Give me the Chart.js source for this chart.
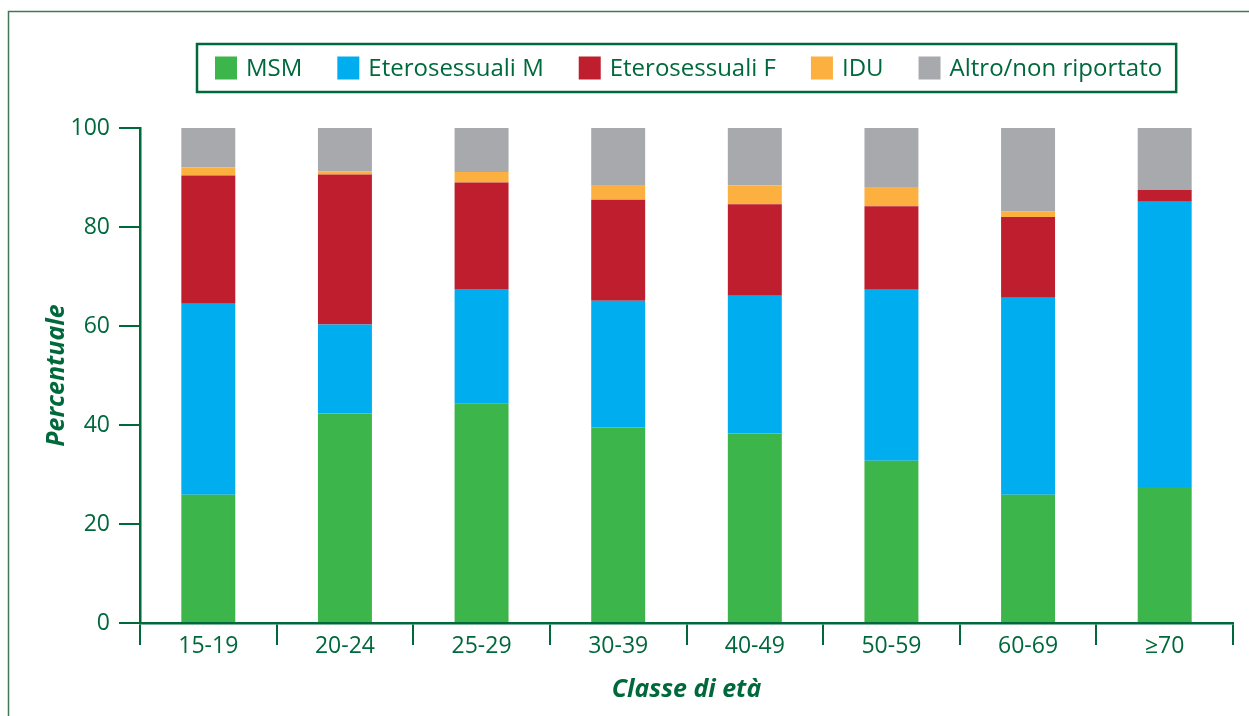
<!DOCTYPE html>
<html>
<head>
<meta charset="utf-8">
<script src="https://cdn.jsdelivr.net/npm/chart.js@4.4.0/dist/chart.umd.min.js"></script>
<style>
  html, body { margin: 0; padding: 0; background: #fff; }
  #wrap { width: 1249px; height: 716px; }
</style>
</head>
<body>
<div id="wrap"><canvas id="myChart" width="1249" height="716"></canvas></div>
<script>
// dati (percentuali per classe di età)
const classi = ['15-19', '20-24', '25-29', '30-39', '40-49', '50-59', '60-69', '≥70'];
const msm = [25.9, 42.3, 44.3, 39.5, 38.3, 32.8, 25.9, 27.5];
const eteroM = [38.6, 18.0, 23.2, 25.6, 27.8, 34.5, 39.8, 57.6];
const eteroF = [25.9, 30.3, 21.5, 20.4, 18.5, 16.9, 16.3, 2.4];
const idu = [1.6, 0.6, 2.1, 3.0, 3.8, 3.9, 1.2, 0];
const altro = [8.0, 8.8, 8.9, 11.5, 11.6, 11.9, 16.8, 12.5];
const yTicks = [0, 20, 40, 60, 80, 100];

const verde = '#00693c';
const fontName = "'Open Sans', 'Noto Sans', sans-serif";

// cornice esterna + legenda con bordo, centrata sull'area del grafico
const decorPlugin = {
  id: 'decor',
  beforeDraw(chart) {
    const c = chart.ctx;
    c.save();
    c.fillStyle = '#fff';
    c.fillRect(0, 0, chart.width, chart.height);
    c.strokeStyle = '#3f7a55';
    c.lineWidth = 1.5;
    c.beginPath();
    c.moveTo(8.5, chart.height);
    c.lineTo(8.5, 11.5);
    c.lineTo(chart.width, 11.5);
    c.stroke();
    c.restore();
  },
  afterDraw(chart) {
    const c = chart.ctx;
    const area = chart.chartArea;
    const sets = chart.data.datasets;
    c.save();
    c.font = '24px ' + fontName;
    c.textBaseline = 'middle';
    const sw = 22, gapTxt = 9, gapItem = 35, padL = 18, padR = 14;
    let total = padL + padR;
    const widths = sets.map(d => c.measureText(d.label).width);
    widths.forEach((w, i) => { total += sw + gapTxt + w + (i > 0 ? gapItem : 0); });
    const boxTop = 44, boxH = 48;
    const left = Math.round((area.left + area.right) / 2 - total / 2);
    c.strokeStyle = verde;
    c.lineWidth = 2.5;
    c.strokeRect(left, boxTop, total, boxH);
    let x = left + padL;
    const cy = boxTop + boxH / 2;
    sets.forEach((d, i) => {
      c.fillStyle = d.backgroundColor;
      c.fillRect(x, cy - 11.5, sw, 23);
      c.fillStyle = verde;
      c.fillText(d.label, x + sw + gapTxt, cy + 1);
      x += sw + gapTxt + widths[i] + gapItem;
    });
    c.restore();
  }
};

const ctx = document.getElementById('myChart');
new Chart(ctx, {
  type: 'bar',
  data: {
    labels: classi,
    datasets: [
      { label: 'MSM', data: msm, backgroundColor: '#3cb54a' },
      { label: 'Eterosessuali M', data: eteroM, backgroundColor: '#00aeef' },
      { label: 'Eterosessuali F', data: eteroF, backgroundColor: '#be1e2d' },
      { label: 'IDU', data: idu, backgroundColor: '#fbb040' },
      { label: 'Altro/non riportato', data: altro, backgroundColor: '#a7a9ac' }
    ]
  },
  options: {
    responsive: false,
    animation: false,
    categoryPercentage: 1,
    barPercentage: 0.395,
    layout: { padding: { top: 128, right: 16, left: 0, bottom: 0 } },
    plugins: {
      legend: { display: false },
      tooltip: { enabled: false }
    },
    scales: {
      x: {
        stacked: true,
        grid: { drawOnChartArea: false, drawTicks: true, tickLength: 22, color: verde, lineWidth: 2, offset: true },
        border: { color: verde, width: 2.5 },
        ticks: { color: verde, font: { family: fontName, size: 23 }, padding: -12 },
        title: {
          display: true, text: 'Classe di età', color: verde,
          font: { family: fontName, size: 25, weight: 'bold', style: 'italic' },
          padding: { bottom: 11 }
        },
        afterFit(scale) { scale.height = 93; }
      },
      y: {
        stacked: true,
        min: 0,
        max: 100,
        afterBuildTicks(scale) { scale.ticks = yTicks.map(v => ({ value: v })); },
        grid: { drawOnChartArea: false, drawTicks: true, tickLength: 21, color: verde, lineWidth: 2 },
        border: { color: verde, width: 2.5 },
        ticks: { color: verde, font: { family: fontName, size: 23 }, padding: 9 },
        title: {
          display: true, text: 'Percentuale', color: verde,
          font: { family: fontName, size: 25, weight: 'bold', style: 'italic' },
          padding: { top: 42 }
        },
        afterFit(scale) { scale.width = 140; }
      }
    }
  },
  plugins: [decorPlugin]
});
</script>
</body>
</html>
